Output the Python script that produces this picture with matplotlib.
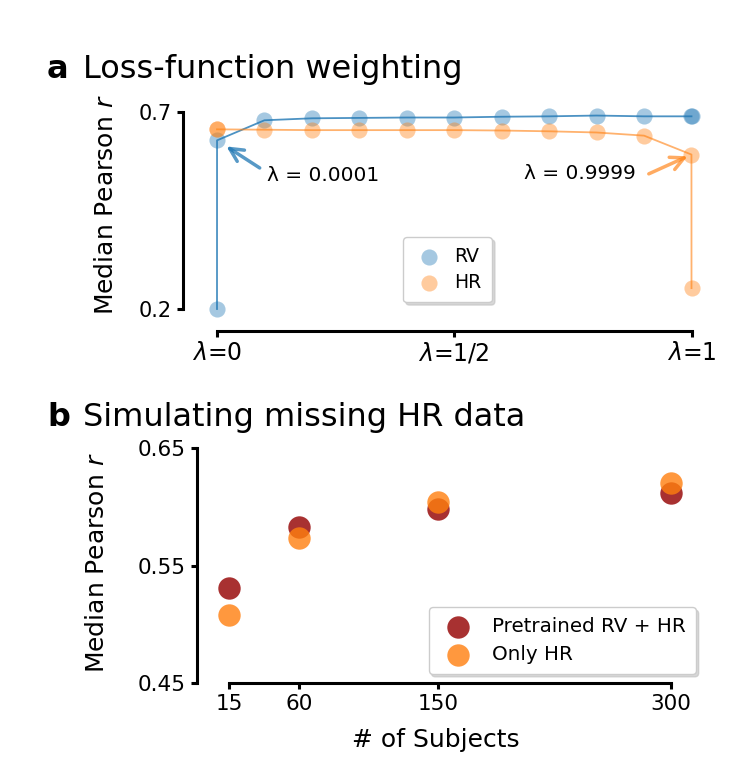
import numpy as np
import matplotlib.pyplot as plt

# panel a: loss-function weighting
lam = [0, 0.0001, 0.1, 0.2, 0.3, 0.4, 0.5, 0.6, 0.7, 0.8, 0.9, 0.9999, 1]
rv = [0.200, 0.628, 0.679, 0.684, 0.685, 0.686, 0.686, 0.688, 0.689, 0.691, 0.689, 0.689, 0.689]
hr = [0.656, 0.656, 0.655, 0.654, 0.654, 0.654, 0.654, 0.653, 0.651, 0.648, 0.640, 0.592, 0.253]
lam_ticks = [0, 0.5, 1]
lam_labels = [r'$\lambda$=0', r'$\lambda$=1/2', r'$\lambda$=1']

# panel b: simulating missing HR data
subjects = [15, 60, 150, 300]
pretrained = [0.531, 0.583, 0.598, 0.612]
only_hr = [0.508, 0.573, 0.604, 0.620]

W, H = 753, 758
fig = plt.figure(figsize=(W / 100, H / 100), dpi=100)

blue = '#1f77b4'
orange = '#ff7f0e'

# ---- a
ax = fig.add_axes([217 / W, 1 - 309 / H, 474.5 / W, 197 / H])
ax.plot(lam, rv, color=blue, lw=1.3, alpha=0.8, clip_on=False)
ax.plot(lam, hr, color=orange, lw=1.3, alpha=0.6, clip_on=False)
ax.scatter(lam, rv, s=135, color=blue, alpha=0.4, lw=0, label='RV', clip_on=False, zorder=3)
ax.scatter(lam, hr, s=135, color=orange, alpha=0.4, lw=0, label='HR', clip_on=False, zorder=3)
ax.set_xlim(0, 1)
ax.set_ylim(0.2, 0.7)
ax.set_xticks(lam_ticks)
ax.set_xticklabels(lam_labels, fontsize=17)
ax.set_yticks([0.2, 0.7])
ax.set_yticklabels(['0.2', '0.7'])
for s in ['top', 'right']:
    ax.spines[s].set_visible(False)
ax.spines['left'].set_position(('outward', 24.5))
ax.spines['left'].set_bounds(0.2, 0.7)
ax.spines['bottom'].set_position(('outward', 15.8))
ax.spines['bottom'].set_bounds(0, 1)
for s in ['left', 'bottom']:
    ax.spines[s].set_linewidth(2.2)
ax.tick_params(direction='out', length=4, width=2.2, labelsize=15, pad=4)
ax.tick_params(axis='x', labelsize=17, pad=3)

ax.annotate('', xy=(lam[1], rv[1]), xytext=(0.09, 0.558),
            arrowprops=dict(arrowstyle='->', lw=2.5, color=blue, alpha=0.75,
                            shrinkA=0, shrinkB=8, mutation_scale=24))
ax.text(0.223, 0.538, 'λ = 0.0001', ha='center', va='center', fontsize=14.5)
ax.annotate('', xy=(lam[-2], hr[-2]), xytext=(0.91, 0.543),
            arrowprops=dict(arrowstyle='->', lw=2.5, color=orange, alpha=0.65,
                            shrinkA=0, shrinkB=3, mutation_scale=24))
ax.text(0.765, 0.543, 'λ = 0.9999', ha='center', va='center', fontsize=14.5)

ax.legend(loc='upper left', bbox_to_anchor=(0.392, 0.365), borderaxespad=0,
          fontsize=13.5, frameon=True, borderpad=0.55,
          handletextpad=0.5, labelspacing=0.35, handlelength=1.7,
          shadow={'color': '0.75', 'alpha': 0.6}, fancybox=True)

fig.text(47 / W, 1 - 78 / H, 'a', fontsize=23, weight='bold', va='baseline')
fig.text(83 / W, 1 - 78 / H, 'Loss-function weighting', fontsize=23, va='baseline')
fig.text(106 / W, 1 - 205 / H, r'Median Pearson $r$', rotation=90, ha='center', va='center', fontsize=18)

# ---- b
bx = fig.add_axes([197 / W, 1 - 683 / H, 506 / W, 235 / H])
bx.scatter(subjects, pretrained, s=260, color='#a52a2a', alpha=0.97, lw=0,
           label='Pretrained RV + HR', clip_on=False, zorder=3)
bx.scatter(subjects, only_hr, s=260, color=orange, alpha=0.8, lw=0,
           label='Only HR', clip_on=False, zorder=4)
bx.set_xlim(15 - 20.6, 300 + 20.6)
bx.set_ylim(0.45, 0.65)
bx.set_xticks(subjects)
bx.set_yticks([0.45, 0.55, 0.65])
bx.set_yticklabels(['0.45', '0.55', '0.65'])
for s in ['top', 'right']:
    bx.spines[s].set_visible(False)
bx.spines['left'].set_bounds(0.45, 0.65)
bx.spines['bottom'].set_bounds(15, 300)
for s in ['left', 'bottom']:
    bx.spines[s].set_linewidth(2.2)
bx.tick_params(direction='out', length=4, width=2.2, labelsize=15.5, pad=4)
bx.legend(loc='lower right', bbox_to_anchor=(0.986, 0.038), borderaxespad=0,
          fontsize=14.3, frameon=True, borderpad=0.5, handletextpad=0.7, labelspacing=0.45,
          shadow={'color': '0.75', 'alpha': 0.6}, fancybox=True)

fig.text(47 / W, 1 - 426 / H, 'b', fontsize=23, weight='bold', va='baseline')
fig.text(83 / W, 1 - 426 / H, 'Simulating missing HR data', fontsize=23, va='baseline')
fig.text(97 / W, 1 - 563 / H, r'Median Pearson $r$', rotation=90, ha='center', va='center', fontsize=18)
fig.text(436 / W, 1 - 740 / H, '# of Subjects', ha='center', va='center', fontsize=18)

fig.savefig('out.png', dpi=100, facecolor='white')
